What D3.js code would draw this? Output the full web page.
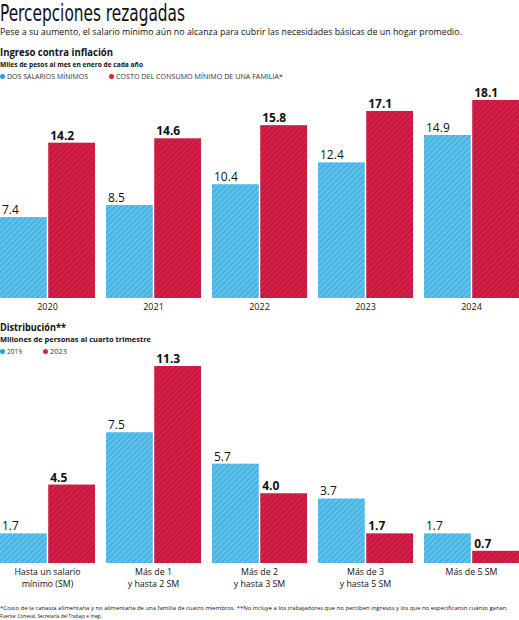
<!DOCTYPE html>
<html>
<head>
<meta charset="utf-8">
<script src="https://cdn.jsdelivr.net/npm/d3@7"></script>
<style>
  body { margin: 0; background: #fff; }
  svg { display: block; font-family: "Open Sans", "Noto Sans", sans-serif; }
</style>
</head>
<body>
<div id="chart"></div>
<script>
(function (d3) {
    'use strict';

    // datos
    var years = ['2020', '2021', '2022', '2023', '2024'];
    var dosSalarios = [7.4, 8.5, 10.4, 12.4, 14.9];
    var costoConsumo = [14.2, 14.6, 15.8, 17.1, 18.1];

    var rangos = [
        ['Hasta un salario', 'mínimo (SM)'],
        ['Más de 1', 'y hasta 2 SM'],
        ['Más de 2', 'y hasta 3 SM'],
        ['Más de 3', 'y hasta 5 SM'],
        ['Más de 5 SM']
    ];
    var personas2019 = [1.7, 7.5, 5.7, 3.7, 1.7];
    var personas2023 = [4.5, 11.3, 4.0, 1.7, 0.7];

    var width = 519, height = 620;
    var blue = '#5bc3ee', blueDark = '#46a9d9',
        red = '#d81f48', redDark = '#b8163b',
        ink = '#111';

    var svg = d3.select('#chart').append('svg')
        .attr('width', width)
        .attr('height', height);

    var defs = svg.append('defs');
    var hatch = function (id, bg, fg) {
        var p = defs.append('pattern')
            .attr('id', id)
            .attr('patternUnits', 'userSpaceOnUse')
            .attr('width', 4)
            .attr('height', 4)
            .attr('patternTransform', 'rotate(45)');
        p.append('rect').attr('width', 4).attr('height', 4).attr('fill', bg);
        p.append('rect').attr('width', 1.3).attr('height', 4).attr('fill', fg);
    };
    hatch('hBlue', blue, blueDark);
    hatch('hRed', red, redDark);

    var text = function (x, y, str, size, weight, len, fill, family) {
        var t = svg.append('text')
            .attr('x', x).attr('y', y)
            .attr('font-size', size)
            .attr('font-weight', weight || 400)
            .attr('fill', fill || ink)
            .text(str);
        if (family) t.attr('font-family', family);
        if (len) t.attr('textLength', len).attr('lengthAdjust', 'spacingAndGlyphs');
        return t;
    };

    // encabezado
    text(0, 21, 'Percepciones rezagadas', 23, 400, 185, '#111',
        '"Liberation Sans Narrow", "DejaVu Sans Condensed", sans-serif');
    text(0, 35, 'Pese a su aumento, el salario mínimo aún no alcanza para cubrir las necesidades básicas de un hogar promedio.', 9.5, 400, 462);

    var legend = function (y, labels, widths) {
        var x = 0;
        labels.forEach(function (l, i) {
            svg.append('circle')
                .attr('cx', x + 2.5).attr('cy', y - 2.5).attr('r', 2.5)
                .attr('fill', i === 0 ? '#1ba6e0' : '#d81f48');
            text(x + 7, y, l, 7.5, 400, widths[i], '#333');
            x += widths[i] + 28;
        });
    };

    var groupX = d3.scaleBand()
        .domain(d3.range(5))
        .range([0, width])
        .paddingInner(11 / 106)
        .paddingOuter(0);
    var pairX = d3.scaleBand()
        .domain([0, 1])
        .range([0, groupX.bandwidth()])
        .paddingInner(0.03);

    var drawBars = function (g, a, b, y) {
        var groups = g.selectAll('g.grp')
            .data(d3.range(a.length))
            .enter().append('g')
            .attr('class', 'grp')
            .attr('transform', function (i) { return 'translate(' + groupX(i) + ',0)'; });

        groups.selectAll('rect')
            .data(function (i) { return [a[i], b[i]]; })
            .enter().append('rect')
            .attr('x', function (d, j) { return pairX(j); })
            .attr('width', pairX.bandwidth())
            .attr('y', function (d) { return y(d); })
            .attr('height', function (d) { return y(0) - y(d); })
            .attr('fill', function (d, j) { return j === 0 ? 'url(#hBlue)' : 'url(#hRed)'; });

        groups.selectAll('text.val')
            .data(function (i) { return [a[i], b[i]]; })
            .enter().append('text')
            .attr('class', 'val')
            .attr('x', function (d, j) { return pairX(j) + 2; })
            .attr('y', function (d) { return y(d) - 3; })
            .attr('font-size', 12)
            .attr('font-weight', function (d, j) { return j === 0 ? 400 : 700; })
            .attr('fill', ink)
            .text(function (d) { return d.toFixed(1); });

        return groups;
    };

    // Ingreso contra inflación
    text(0, 56, 'Ingreso contra inflación', 10.5, 700, 113);
    text(0, 67, 'Miles de pesos al mes en enero de cada año', 7.5, 700, 143);
    legend(79, ['DOS SALARIOS MÍNIMOS', 'COSTO DEL CONSUMO MÍNIMO DE UNA FAMILIA*'], [81, 167]);

    var y1 = d3.scaleLinear().domain([0, 18.1]).range([298, 100]);
    var g1 = svg.append('g');
    var grp1 = drawBars(g1, dosSalarios, costoConsumo, y1);
    grp1.append('text')
        .attr('x', groupX.bandwidth() / 2)
        .attr('y', 310)
        .attr('text-anchor', 'middle')
        .attr('font-size', 9)
        .attr('fill', ink)
        .text(function (i) { return years[i]; });

    // Distribución
    text(0, 331, 'Distribución**', 10.5, 700, 66);
    text(0, 342, 'Millones de personas al cuarto trimestre', 7.5, 700, 151);
    legend(354, ['2019', '2023'], [15, 17]);

    var y2 = d3.scaleLinear().domain([0, 11.3]).range([563, 366]);
    var g2 = svg.append('g');
    var grp2 = drawBars(g2, personas2019, personas2023, y2);
    grp2.selectAll('text.cat')
        .data(function (i) { return rangos[i]; })
        .enter().append('text')
        .attr('class', 'cat')
        .attr('x', groupX.bandwidth() / 2)
        .attr('y', function (d, k) { return 575 + k * 11.5; })
        .attr('text-anchor', 'middle')
        .attr('font-size', 8.8)
        .attr('fill', ink)
        .text(function (d) { return d; });

    // notas
    text(0, 610, '*Costo de la canasta alimentaria y no alimentaria de una familia de cuatro miembros. **No incluye a los trabajadores que no perciben ingresos y los que no especificaron cuánto ganan.', 6, 400, 508);
    text(0, 617.5, 'Fuente: Coneval, Secretaría del Trabajo e Inegi.', 6, 400, 102);
})(d3);
</script>
</body>
</html>
